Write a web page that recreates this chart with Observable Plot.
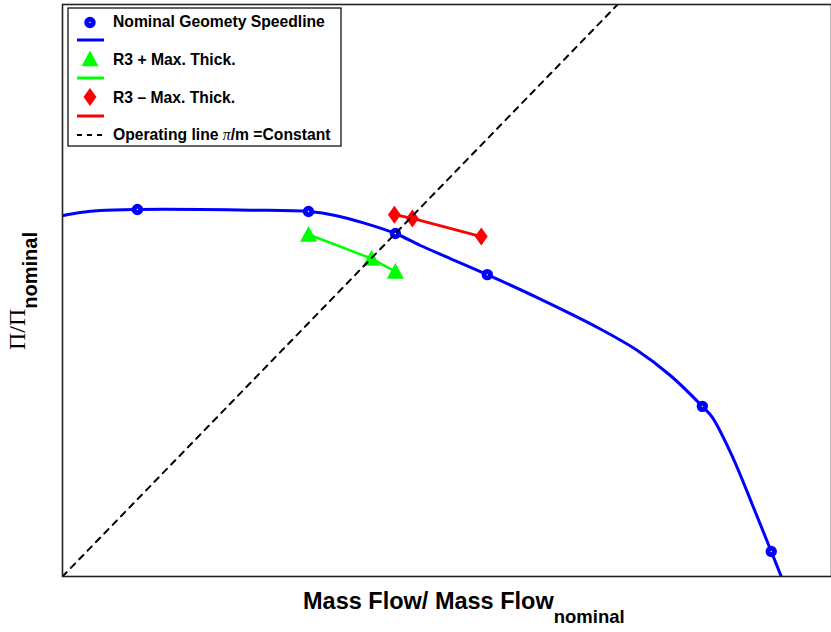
<!DOCTYPE html>
<html>
<head>
<meta charset="utf-8">
<script src="https://cdn.jsdelivr.net/npm/d3@7"></script>
<script src="https://cdn.jsdelivr.net/npm/@observablehq/plot@0.6"></script>
<style>
  body { margin: 0; background: #fff; }
  #chart { width: 831px; height: 632px; }
  #chart svg { display: block; }
</style>
</head>
<body>
<div id="chart"></div>
<script>
// Compressor speedlines, mass flow and pressure ratio both normalised by the nominal operating point.

// Nominal geometry speedline (smooth curve)
const nominalCurveFlow = [0.000, 0.054, 0.114, 0.225, 0.414, 0.565, 0.739, 0.823, 0.904, 1.000,
                          1.075, 1.165, 1.276, 1.426, 1.607, 1.727, 1.826, 1.922, 1.952, 2.015,
                          2.072, 2.129, 2.159];
const nominalCurvePR   = [1.052, 1.061, 1.067, 1.070, 1.070, 1.068, 1.064, 1.052, 1.031, 1.000,
                          0.965, 0.927, 0.880, 0.813, 0.726, 0.659, 0.586, 0.496, 0.464, 0.344,
                          0.210, 0.073, 0.000];

// Nominal geometry computed points
const nominalFlow = [0.225, 0.739, 1.000, 1.276, 1.922, 2.129];
const nominalPR   = [1.070, 1.064, 1.000, 0.880, 0.496, 0.073];

// R3 + max. thickness
const plusFlow = [0.739, 0.928, 1.000];
const plusPR   = [0.997, 0.927, 0.889];

// R3 - max. thickness
const minusFlow = [0.997, 1.051, 1.258];
const minusPR   = [1.055, 1.044, 0.991];

// Operating line: pi/m = constant
const operatingConstant = 1.0;
const operatingFlow = [0, 2.0];

const flowDomain = [0, 2.31];
const prDomain = [0, 1.6676];

const BLUE = "#0000ff", GREEN = "#00ff00", RED = "#ff0000";
const FONT = "'Liberation Sans', Arial, Helvetica, sans-serif";
const SERIF = "'Liberation Serif', 'Times New Roman', serif";

const zipXY = (xs, ys) => xs.map((x, i) => ({x, y: ys[i]}));
const nominalCurve = zipXY(nominalCurveFlow, nominalCurvePR);
const nominalPts = zipXY(nominalFlow, nominalPR);
const plusPts = zipXY(plusFlow, plusPR);
const minusPts = zipXY(minusFlow, minusPR);
const operating = operatingFlow.map(x => ({x, y: operatingConstant * x}));

// Marker shapes: upward triangle and a slightly tall diamond
const triangleUp = {
  draw(ctx, size) {
    const s = Math.sqrt(size / Math.PI);
    ctx.moveTo(0, -s);
    ctx.lineTo(s, s * 0.85);
    ctx.lineTo(-s, s * 0.85);
    ctx.closePath();
  }
};
const tallDiamond = {
  draw(ctx, size) {
    const s = Math.sqrt(size / Math.PI);
    ctx.moveTo(0, -s);
    ctx.lineTo(s * 0.72, 0);
    ctx.lineTo(0, s);
    ctx.lineTo(-s * 0.72, 0);
    ctx.closePath();
  }
};

const chart = Plot.plot({
  width: 831,
  height: 632,
  marginLeft: 62,
  marginRight: 0,
  marginTop: 4,
  marginBottom: 56,
  style: {fontFamily: FONT, background: "white"},
  x: {domain: flowDomain, axis: null},
  y: {domain: prDomain, axis: null},
  marks: [
    Plot.line(nominalCurve, {x: "x", y: "y", stroke: BLUE, strokeWidth: 3, curve: "catmull-rom", clip: true}),
    Plot.dot(nominalPts, {x: "x", y: "y", r: 3.2, stroke: BLUE, strokeWidth: 5, fill: "white"}),
    Plot.line(plusPts, {x: "x", y: "y", stroke: GREEN, strokeWidth: 2.5}),
    Plot.dot(plusPts, {x: "x", y: "y", r: 8.5, symbol: triangleUp, fill: GREEN, stroke: "none"}),
    Plot.line(minusPts, {x: "x", y: "y", stroke: RED, strokeWidth: 2.7}),
    Plot.dot(minusPts, {x: "x", y: "y", r: 9, symbol: tallDiamond, fill: RED, stroke: "none"}),
    Plot.line(operating, {x: "x", y: "y", stroke: "black", strokeWidth: 2, strokeDasharray: "6,6", clip: true}),
    Plot.frame({stroke: "#222", strokeWidth: 1.6})
  ]
});

document.getElementById("chart").appendChild(chart);

const svg = d3.select(chart);

// Axis titles with subscripts
const xLabel = svg.append("text")
  .attr("x", 303).attr("y", 609).attr("text-anchor", "start")
  .attr("font-family", FONT).attr("font-weight", "bold").attr("fill", "black");
xLabel.append("tspan").attr("font-size", 23.5).text("Mass Flow/ Mass Flow");
xLabel.append("tspan").attr("font-size", 18.5).attr("dy", 14).text("nominal");

const yLabel = svg.append("text")
  .attr("transform", "translate(25,350) rotate(-90)").attr("text-anchor", "start")
  .attr("fill", "black");
yLabel.append("tspan").attr("font-family", SERIF).attr("font-size", 24).text("Π/Π");
yLabel.append("tspan").attr("font-family", FONT).attr("font-weight", "bold")
  .attr("font-size", 20).attr("dy", 12).text("nominal");

// Legend box
const lg = svg.append("g").attr("font-family", FONT).attr("font-weight", "bold")
  .attr("font-size", 15.7).attr("text-anchor", "start");
lg.append("rect").attr("x", 68).attr("y", 8).attr("width", 273).attr("height", 138)
  .attr("fill", "white").attr("stroke", "#111").attr("stroke-width", 1.3);

const sym = (shape, r) => d3.symbol(shape, r * r * Math.PI)();
const entries = [
  {label: "Nominal Geomety Speedline", color: BLUE, kind: "circle", my: 22.5, ly: 40, ty: 27},
  {label: "R3 + Max. Thick.", color: GREEN, kind: "tri", my: 59, ly: 78, ty: 65},
  {label: "R3 \u2013 Max. Thick.", color: RED, kind: "dia", my: 97, ly: 116, ty: 103}
];
for (const e of entries) {
  if (e.kind === "circle") {
    lg.append("circle").attr("cx", 90).attr("cy", e.my).attr("r", 3.2)
      .attr("fill", "white").attr("stroke", e.color).attr("stroke-width", 5);
  } else {
    lg.append("path").attr("transform", `translate(90,${e.my})`)
      .attr("d", sym(e.kind === "tri" ? triangleUp : tallDiamond, e.kind === "tri" ? 8.5 : 9))
      .attr("fill", e.color);
  }
  lg.append("line").attr("x1", 77).attr("x2", 104).attr("y1", e.ly).attr("y2", e.ly)
    .attr("stroke", e.color).attr("stroke-width", 3);
  lg.append("text").attr("x", 113).attr("y", e.ty).text(e.label);
}
lg.append("line").attr("x1", 77).attr("x2", 104).attr("y1", 135).attr("y2", 135)
  .attr("stroke", "black").attr("stroke-width", 2).attr("stroke-dasharray", "5,5");
const opText = lg.append("text").attr("x", 113).attr("y", 140);
opText.append("tspan").text("Operating line ");
opText.append("tspan").attr("font-family", SERIF)
  .attr("font-weight", "normal").attr("font-style", "italic").text("π");
opText.append("tspan").text("/m =Constant");
</script>
</body>
</html>
